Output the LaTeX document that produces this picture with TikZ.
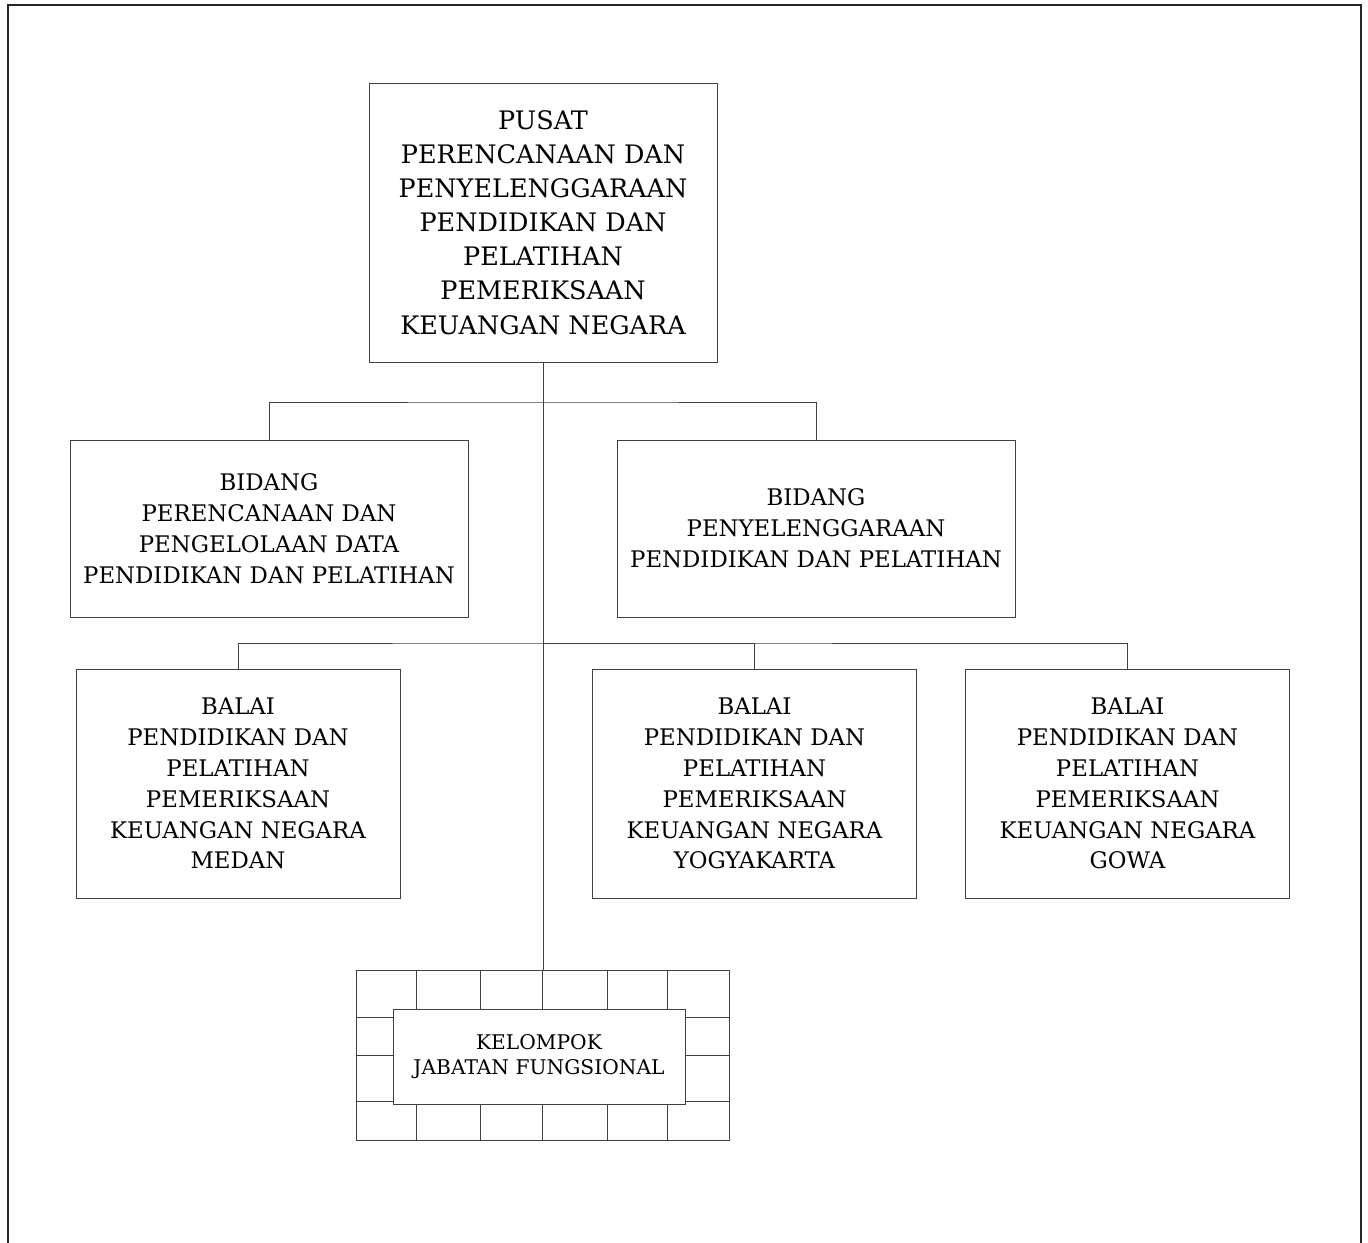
\documentclass[tikz,border=0pt]{standalone}
\usepackage{fontspec}
\setmainfont{DejaVu Serif}

\begin{document}
\begin{tikzpicture}[x=0.02cm, y=-0.02cm,
    unit/.style={draw=black!75, line width=0.5pt, align=center, inner sep=0pt,
      font=\fontsize{13}{17.6}\selectfont},
    conn/.style={draw=black!75, line width=0.5pt}]
  \useasboundingbox (0,0) rectangle (1368,1243);
  \draw[line width=1.1pt, black!85] (8,1243) -- (8,5) -- (1361,5) -- (1361,1243);

  \node[unit, minimum width=6.96cm, minimum height=5.58cm,
    font=\fontsize{14.5}{19.4}\selectfont] (pusat) at (543,222.5)
    {PUSAT\\PERENCANAAN DAN\\PENYELENGGARAAN\\PENDIDIKAN DAN\\PELATIHAN\\PEMERIKSAAN\\KEUANGAN NEGARA};

  \node[unit, minimum width=7.96cm, minimum height=3.54cm] (b-1) at (269,528.5)
    {BIDANG\\PERENCANAAN DAN\\PENGELOLAAN DATA\\PENDIDIKAN DAN PELATIHAN};
  \node[unit, minimum width=7.96cm, minimum height=3.54cm] (b-2) at (816,528.5)
    {BIDANG\\PENYELENGGARAAN\\PENDIDIKAN DAN PELATIHAN};

  \foreach \x/\cx/\kota in {1/238/MEDAN, 2/754.5/YOGYAKARTA, 3/1127.5/GOWA} {
    \node[unit, minimum width=6.48cm, minimum height=4.58cm] (c-\x) at (\cx,783.5)
      {BALAI\\PENDIDIKAN DAN\\PELATIHAN\\PEMERIKSAAN\\KEUANGAN NEGARA\\\kota};
  }

  % kelompok jabatan fungsional
  \draw[conn] (356,970) rectangle (729,1140);
  \foreach \gx in {416, 480, 542, 607, 667}
    \draw[conn] (\gx,970) -- (\gx,1140);
  \foreach \gy in {1017, 1055, 1101}
    \draw[conn] (356,\gy) -- (729,\gy);
  \node[unit, fill=white, minimum width=5.84cm, minimum height=1.9cm,
    font=\fontsize{11.5}{14.5}\selectfont] (kjf) at (539,1056.5)
    {KELOMPOK\\JABATAN FUNGSIONAL};

  \coordinate (j-1) at (543,402);
  \coordinate (j-2) at (543,643);
  \coordinate (kjf-top) at (543,970);

  \draw[conn] (pusat.south) -- (kjf-top);
  \draw[conn] (b-1.north) |- (j-1) -| (b-2.north);
  \draw[conn] (c-1.north) |- (j-2) -| (c-3.north);
  \draw[conn] (c-2.north) |- (j-2);
\end{tikzpicture}
\end{document}
